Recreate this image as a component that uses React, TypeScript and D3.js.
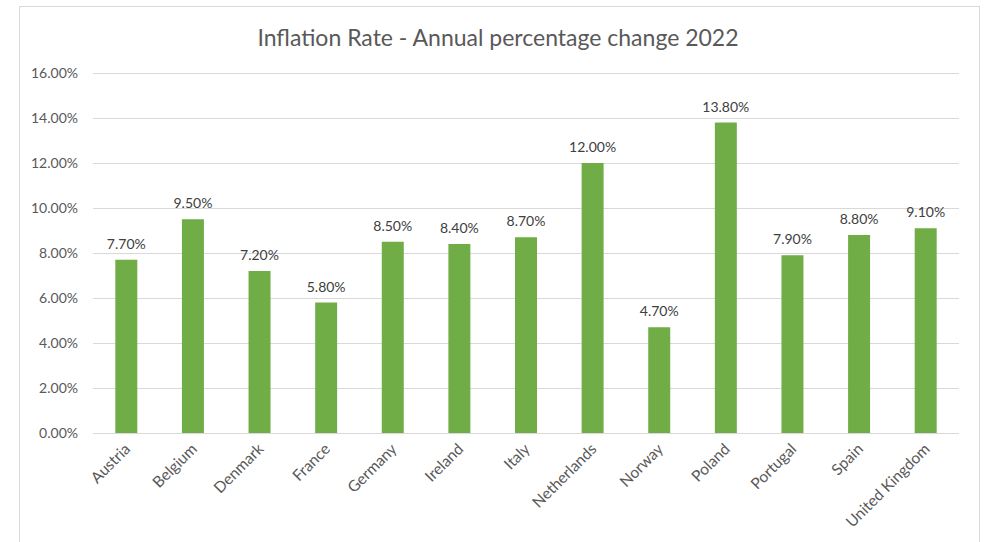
import * as d3 from "d3";
import { useEffect, useRef } from "react";

const countries = [
    "Austria", "Belgium", "Denmark", "France", "Germany", "Ireland", "Italy",
    "Netherlands", "Norway", "Poland", "Portugal", "Spain", "United Kingdom",
];
const inflation = [7.7, 9.5, 7.2, 5.8, 8.5, 8.4, 8.7, 12.0, 4.7, 13.8, 7.9, 8.8, 9.1];
const yTicks = [0, 2, 4, 6, 8, 10, 12, 14, 16];
const title = "Inflation Rate - Annual percentage change 2022";

const width = 986;
const height = 542;
const marginTop = 73;
const marginRight = 27;
const marginBottom = 109;
const marginLeft = 93;
const textColor = "#595959";
const font = "Lato, 'Open Sans', sans-serif";

const App = () => {
    const ref = useRef<SVGSVGElement>(null);

    useEffect(() => {
        const svg = d3.select(ref.current);
        svg.selectAll("*").remove();

        const x = d3.scaleBand()
            .domain(countries)
            .range([marginLeft, width - marginRight])
            .paddingInner(0.67)
            .paddingOuter(0.335);

        const y = d3.scaleLinear()
            .domain([0, 16])
            .range([height - marginBottom, marginTop]);

        // chart border
        svg.append("rect")
            .attr("x", 19.5)
            .attr("y", 6.5)
            .attr("width", 960)
            .attr("height", 560)
            .attr("fill", "white")
            .attr("stroke", "#d9d9d9");

        svg.append("text")
            .attr("x", 498)
            .attr("y", 46)
            .attr("text-anchor", "middle")
            .attr("fill", textColor)
            .style("font-family", font)
            .style("font-size", "23px")
            .text(title);

        // gridlines + y labels
        const yAxis = svg.append("g")
            .attr("transform", `translate(${marginLeft},0)`)
            .call(d3.axisLeft(y)
                .tickValues(yTicks)
                .tickFormat(d => `${(+d).toFixed(2)}%`)
                .tickSize(-(width - marginLeft - marginRight))
                .tickPadding(15));
        yAxis.select(".domain").remove();
        yAxis.selectAll(".tick line").attr("stroke", "#d9d9d9");
        yAxis.selectAll(".tick text")
            .attr("fill", textColor)
            .style("font-family", font)
            .style("font-size", "14px");

        svg.append("g")
            .selectAll()
            .data(inflation)
            .join("rect")
            .attr("x", (_, i) => x(countries[i]) ?? 0)
            .attr("y", d => y(d))
            .attr("width", x.bandwidth())
            .attr("height", d => y(0) - y(d))
            .attr("fill", "#70ad47");

        svg.append("g")
            .selectAll()
            .data(inflation)
            .join("text")
            .attr("x", (_, i) => (x(countries[i]) ?? 0) + x.bandwidth() / 2)
            .attr("y", d => y(d) - 11)
            .attr("text-anchor", "middle")
            .attr("fill", "#404040")
            .style("font-family", font)
            .style("font-size", "14px")
            .text(d => `${d.toFixed(2)}%`);

        svg.append("g")
            .selectAll()
            .data(countries)
            .join("text")
            .attr("transform", d => `translate(${(x(d) ?? 0) + x.bandwidth() / 2 + 5},${y(0) + 17}) rotate(-45)`)
            .attr("text-anchor", "end")
            .attr("fill", textColor)
            .style("font-family", font)
            .style("font-size", "15.5px")
            .text(d => d);
    }, []);

    return (
        <svg ref={ref} width={width} height={height}
            style={{ position: "absolute", left: 0, top: 0, background: "white" }} />
    );
};

export default App;
